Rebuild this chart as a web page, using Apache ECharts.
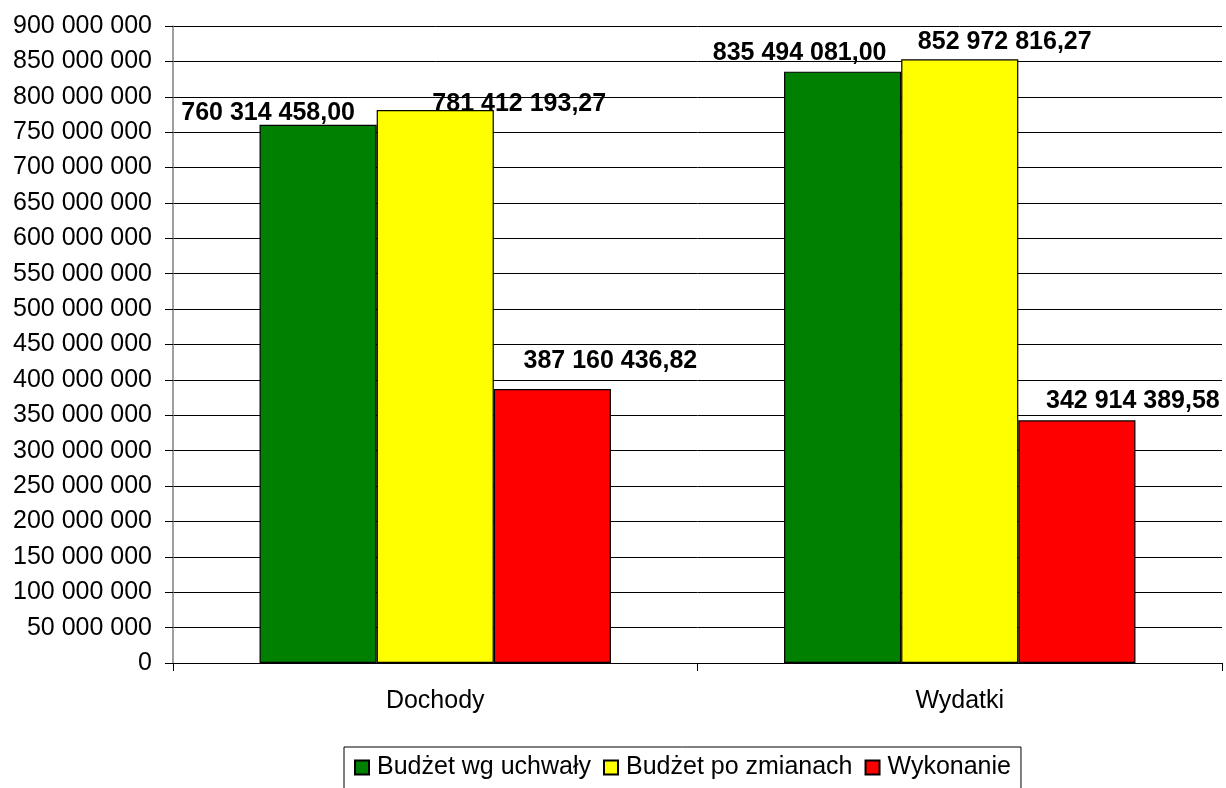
<!DOCTYPE html>
<html>
<head>
<meta charset="utf-8">
<script src="https://cdn.jsdelivr.net/npm/echarts@6/dist/echarts.min.js"></script>
<style>
  html, body { margin: 0; padding: 0; background: #fff; }
  #chart { width: 1226px; height: 788px; }
</style>
</head>
<body>
<div id="chart"></div>
<script>
// kategorie i serie
const categories = ['Dochody', 'Wydatki']
const seriesNames = ['Budżet wg uchwały', 'Budżet po zmianach', 'Wykonanie']
const uchwala = [760314458.00, 835494081.00]
const poZmianach = [781412193.27, 852972816.27]
const wykonanie = [387160436.82, 342914389.58]
const colors = ['#008000', '#ffff00', '#ff0000']

// przesunięcia etykiet jak w Excelu (styl, nie dane)
const labelOffsets = [
    [[-50, 6], [-43, -1]],
    [[84, 12], [45, 0]],
    [[58, -10], [56, -2]]
]

const font = 'Liberation Sans, Arial, sans-serif'

// 900000000 -> "900 000 000"
const fmtSpace = (v) => String(Math.round(v)).replace(/\B(?=(\d{3})+(?!\d))/g, ' ')
const fmtMoney = (v) => {
    const parts = v.toFixed(2).split('.')
    return fmtSpace(Number(parts[0])) + ',' + parts[1]
}

const buildSeries = (name, values, idx) => ({
    name: name,
    type: 'bar',
    barGap: '0%',
    barCategoryGap: '33%',
    itemStyle: { color: colors[idx], borderColor: '#000', borderWidth: 1.2 },
    label: {
        show: true,
        position: 'top',
        distance: 5,
        color: '#000',
        fontFamily: font,
        fontSize: 25,
        fontWeight: 'bold',
        formatter: (p) => fmtMoney(p.value)
    },
    data: values.map((v, i) => ({ value: v, label: { offset: labelOffsets[idx][i] } }))
})

var myChart = echarts.init(document.getElementById('chart'))

var option = {
    animation: false,
    backgroundColor: '#fff',
    textStyle: { fontFamily: font },
    grid: { left: 173, right: 4, top: 26, bottom: 125, containLabel: false },
    legend: {
        left: 344,
        top: 747,
        padding: [8, 10, 12, 10],
        itemGap: 12,
        itemWidth: 14,
        itemHeight: 14,
        icon: 'rect',
        borderColor: '#000',
        borderWidth: 1,
        textStyle: { fontFamily: font, fontSize: 25, color: '#000', padding: [0, 0, 0, 3] },
        data: seriesNames
    },
    xAxis: {
        type: 'category',
        data: categories,
        axisLine: { lineStyle: { color: '#000', width: 1 } },
        axisTick: { show: true, alignWithLabel: false, length: 8, lineStyle: { color: '#000' } },
        axisLabel: { color: '#000', fontFamily: font, fontSize: 25, margin: 26 }
    },
    yAxis: {
        type: 'value',
        min: 0,
        max: 900000000,
        interval: 50000000,
        axisLine: { show: true, lineStyle: { color: '#808080', width: 1.5 } },
        axisTick: { show: true, length: 8, lineStyle: { color: '#000' } },
        splitLine: { show: true, lineStyle: { color: '#000', width: 1 } },
        axisLabel: {
            color: '#000',
            fontFamily: font,
            fontSize: 25,
            margin: 21,
            formatter: (v) => fmtSpace(v)
        }
    },
    series: [
        buildSeries(seriesNames[0], uchwala, 0),
        buildSeries(seriesNames[1], poZmianach, 1),
        buildSeries(seriesNames[2], wykonanie, 2)
    ]
}

myChart.setOption(option)
</script>
</body>
</html>
